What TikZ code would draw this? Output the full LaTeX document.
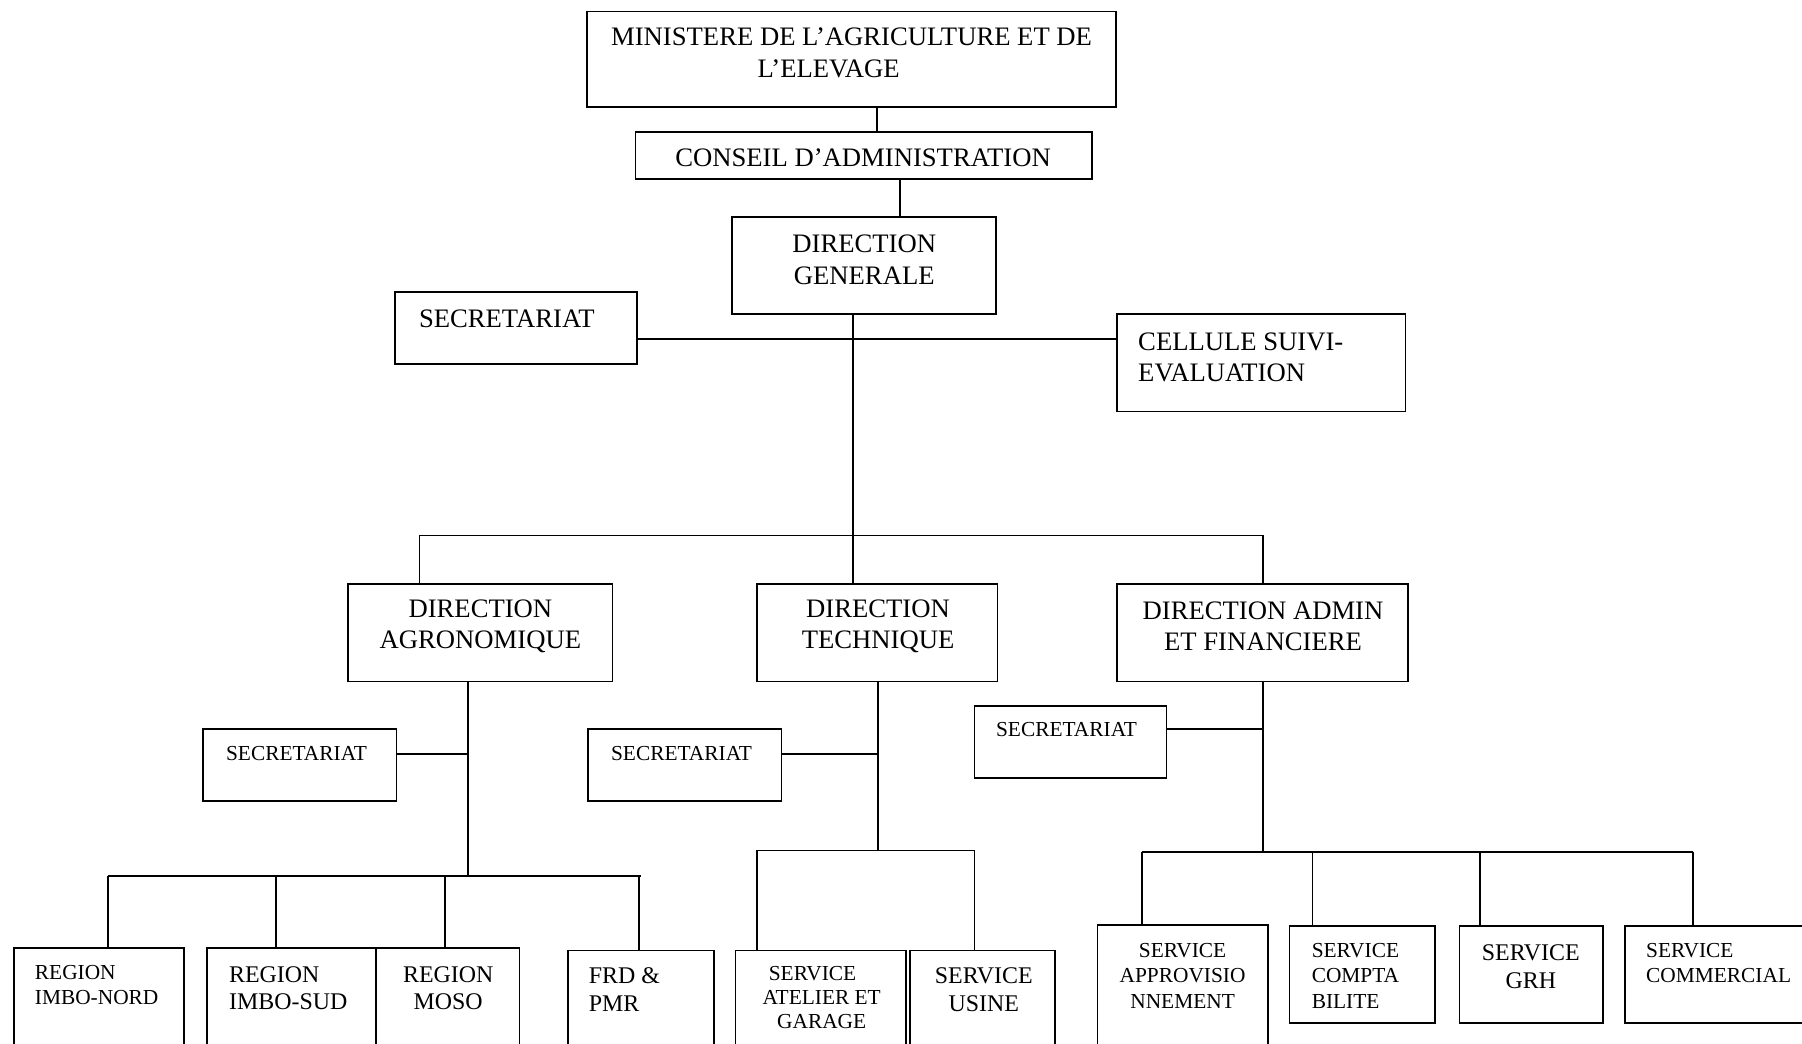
\documentclass[tikz,border=0pt]{standalone}
\usepackage{fontspec}
\setmainfont{Liberation Serif}
\usetikzlibrary{fit}
\newcommand\fsA{\fontsize{11.6}{13.8}\selectfont}
\newcommand\fsB{\fontsize{10.4}{12}\selectfont}
\newcommand\fsC{\fontsize{9.3}{11}\selectfont}
\begin{document}
\begin{tikzpicture}[x=0.5pt,y=-0.5pt,
  box/.style={draw, line width=0.8pt, inner sep=0pt},
  link/.style={line width=0.8pt},
  txt/.style={inner sep=0pt, align=center},
  ltxt/.style={inner sep=0pt, align=left, anchor=west}]
\useasboundingbox (0,0) rectangle (1568,908);
\fill[white] (0,0) rectangle (1568,908);
\clip (0,0) rectangle (1568,908);
% boxes
\node[box, fit={(511,10) (971,93)}] (min) {};
\node[box, fit={(553,115) (950,156)}] (cons) {};
\node[box, fit={(637,189) (867,273)}] (dg) {};
\node[box, fit={(344,254) (554,317)}] (sec) {};
\node[box, fit={(972,273) (1223,358)}] (cell) {};
\node[box, fit={(303,508) (533,593)}] (agro) {};
\node[box, fit={(659,508) (868,593)}] (tech) {};
\node[box, fit={(972,508) (1225,593)}] (adm) {};
\node[box, fit={(177,634) (345,697)}] (seca) {};
\node[box, fit={(512,634) (680,697)}] (sect) {};
\node[box, fit={(848,614) (1015,677)}] (secd) {};
\node[box, fit={(12,825) (160,950)}] (rin) {};
\node[box, fit={(180,825) (327,950)}] (ris) {};
\node[box, fit={(327,825) (452,950)}] (rmo) {};
\node[box, fit={(494,827) (621,950)}] (frd) {};
\node[box, fit={(640,827) (788,950)}] (sat) {};
\node[box, fit={(792,827) (918,950)}] (sus) {};
\node[box, fit={(955,805) (1103,950)}] (sap) {};
\node[box, fit={(1122,806) (1249,890)}] (sco) {};
\node[box, fit={(1270,806) (1395,890)}] (sgr) {};
\node[box, fit={(1414,806) (1580,890)}] (scm) {};
% texts
\node[txt, font=\fsA] (tmin) at (741,46) {MINISTERE DE L’AGRICULTURE ET DE\\L’ELEVAGE\hspace*{20pt}};
\node[txt, font=\fsA] (tcons) at (751,137) {CONSEIL D’ADMINISTRATION};
\node[txt, font=\fsA] (tdg) at (752,226) {DIRECTION\\GENERALE};
\node[txt, font=\fsA] (tsec) at (441,277) {SECRETARIAT};
\node[ltxt, font=\fsA] (tcell) at (990,311) {CELLULE SUIVI-\\EVALUATION};
\node[txt, font=\fsA] (tagro) at (418,545) {DIRECTION\\AGRONOMIQUE};
\node[txt, font=\fsA] (ttech) at (764,545) {DIRECTION\\TECHNIQUE};
\node[txt, font=\fsA] (tadm) at (1099,545) {DIRECTION ADMIN\\ET FINANCIERE};
\node[txt, font=\fsC] (tseca) at (258,656) {SECRETARIAT};
\node[txt, font=\fsC] (tsect) at (593,656) {SECRETARIAT};
\node[txt, font=\fsC] (tsecd) at (928,635) {SECRETARIAT};
\node[ltxt, font=\fsC] (trin) at (30,857) {REGION\\IMBO-NORD};
\node[ltxt, font=\fsB] (tris) at (199,860) {REGION\\IMBO-SUD};
\node[txt, font=\fsB] (trmo) at (390,860) {REGION\\MOSO};
\node[ltxt, font=\fsB] (tfrd) at (512,861) {FRD \&\\PMR};
\node[txt, font=\fontsize{9.3}{10.5}\selectfont] (tsat) at (715,868) {SERVICE\hspace*{8pt}\\ATELIER ET\\GARAGE};
\node[txt, font=\fsB] (tsus) at (856,861) {SERVICE\\USINE};
\node[txt, font=\fsC] (tsap) at (1029,849) {SERVICE\\APPROVISIO\\NNEMENT};
\node[ltxt, font=\fsC] (tsco) at (1141,849) {SERVICE\\COMPTA\\BILITE};
\node[txt, font=\fsB] (tsgr) at (1332,841) {SERVICE\\GRH};
\node[ltxt, font=\fsC] (tscm) at (1432,838) {SERVICE\\COMMERCIAL};
% helper coordinates
\coordinate (xa) at (763,0);
\coordinate (xb) at (783,0);
\coordinate (yb) at (0,295);
\coordinate (j1) at (742,466);
\coordinate (jl) at (365,466);
\coordinate (jr) at (1099,466);
\coordinate (ja) at (407,762);
\coordinate (ya) at (0,656);
\coordinate (b1) at (94,762);
\coordinate (b2) at (240,762);
\coordinate (b3) at (387,762);
\coordinate (b4) at (556,762);
\coordinate (b5) at (558,762);
\coordinate (jt) at (764,740);
\coordinate (t1) at (659,740);
\coordinate (t2) at (848,740);
\coordinate (jd) at (1099,741);
\coordinate (yd) at (0,634);
\coordinate (d1) at (994,741);
\coordinate (d2) at (1142,741);
\coordinate (d3) at (1288,741);
\coordinate (d4) at (1473,741);
% connectors
\draw[link] (min.south -| xa) -- (cons.north -| xa);
\draw[link] (cons.south -| xb) -- (dg.north -| xb);
\draw[link] (dg.south -| j1) -- (j1);
\draw[link] (sec.east |- yb) -- (cell.west |- yb);
\draw[link] (agro.north -| jl) -- (jl) -- (jr) -- (adm.north -| jr);
\draw[link] (j1) -- (tech.north -| j1);
% agronomique
\draw[link] (agro.south -| ja) -- (ja);
\draw[link] (seca.east |- ya) -- (ja |- ya);
\draw[link] (b1) -- (b5);
\draw[link] (b1) -- (rin.north -| b1);
\draw[link] (b2) -- (ris.north -| b2);
\draw[link] (b3) -- (rmo.north -| b3);
\draw[link] (b4) -- (frd.north -| b4);
% technique
\draw[link] (tech.south -| jt) -- (jt);
\draw[link] (sect.east |- ya) -- (jt |- ya);
\draw[link] (t1) -- (t2);
\draw[link] (t1) -- (sat.north -| t1);
\draw[link] (t2) -- (sus.north -| t2);
% admin
\draw[link] (adm.south -| jd) -- (jd);
\draw[link] (secd.east |- yd) -- (jd |- yd);
\draw[link] (d1) -- (d4);
\draw[link] (d1) -- (sap.north -| d1);
\draw[link] (d2) -- (sco.north -| d2);
\draw[link] (d3) -- (sgr.north -| d3);
\draw[link] (d4) -- (scm.north -| d4);
\end{tikzpicture}
\end{document}
